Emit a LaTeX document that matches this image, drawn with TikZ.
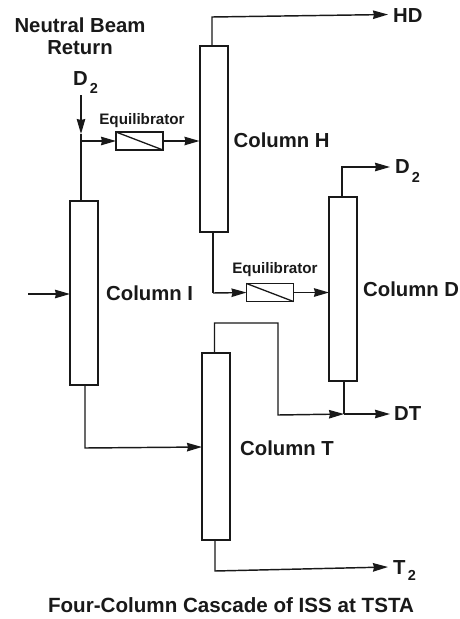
\documentclass[tikz,border=0pt]{standalone}
\usepackage{fontspec}
\setmainfont{Liberation Sans}
\usetikzlibrary{arrows.meta,calc}
\tikzset{
  column/.style={draw=black!90,line width=2pt,fill=white,minimum width=28pt,inner sep=0pt,outer sep=0pt},
  equil/.style={draw=black!90,line width=1.8pt,fill=white,minimum width=47pt,minimum height=18pt,inner sep=0pt,outer sep=0pt},
  flow/.style={draw=black!90,line width=1.45pt,-{Stealth[length=15pt,width=8.5pt,inset=1pt]}},
  pipe/.style={draw=black!90,line width=1.45pt},
  lab/.style={font=\bfseries\fontsize{20.3}{22}\selectfont,inner sep=0pt,text=black!90},
  small/.style={font=\bfseries\fontsize{15.2}{16}\selectfont,inner sep=0pt,text=black!90},
  head/.style={font=\bfseries\fontsize{20.3}{22}\selectfont,inner sep=0pt,align=center,text=black!90},
  strm/.style={font=\bfseries\fontsize{20.3}{22}\selectfont,inner sep=0pt,anchor=west,text=black!90},
  subs/.style={font=\bfseries\fontsize{14.5}{15}\selectfont,inner sep=0pt,text=black!90},
}
\begin{document}
\begin{tikzpicture}[x=1pt,y=-1pt]
\useasboundingbox (0,0) rectangle (460,619);
% columns
\node[column,minimum height=186pt] (H) at (213.5,139) {};
\node[column,minimum height=184pt] (I) at (84,293) {};
\node[column,minimum height=184pt] (D) at (343,289) {};
\node[column,minimum height=187pt] (T) at (216,446.5) {};
% equilibrators
\node[equil] (E1) at (139.5,141) {};
\node[equil] (E2) at (270,292.5) {};
\draw[line width=1.3pt,black!90] (E1.north west) -- (E1.south east);
\draw[line width=1.3pt,black!90] (E2.north west) -- (E2.south east);
% labels
\node[head] (title) at (80,36) {Neutral Beam\\Return};
\node[strm] (d2a) at (73,79) {D};
\node[subs] (d2as) at (94,88) {2};
\node[small] (e1t) at (142,121) {Equilibrator};
\node[small] (e2t) at (275,270) {Equilibrator};
\node[lab,anchor=west] (cH) at (233.5,140.5) {Column H};
\node[lab,anchor=west] (cI) at (106,293) {Column I};
\node[lab,anchor=west] (cD) at (363,289) {Column D};
\node[lab,anchor=west] (cT) at (240,448) {Column T};
\node[strm] (HD) at (393,16) {HD};
\node[strm] (D2b) at (395,167) {D};
\node[subs] (D2bs) at (416,177) {2};
\node[strm] (DT) at (394,414) {DT};
\node[strm] (T2) at (393,568) {T};
\node[subs] (T2s) at (412,575) {2};
\node[font=\bfseries\fontsize{20.6}{22}\selectfont,inner sep=0pt,text=black!90] (cap) at (231,605) {Four-Column Cascade of ISS at TSTA};
% junction and free-end coordinates
\coordinate (d2top) at (81,95);
\coordinate (j1) at (81,141);
\coordinate (j1tip) at (81,134);
\coordinate (inl) at (28,294);
\coordinate (j2) at (344,414);
% connectors
\draw[flow] (d2top) -- (j1tip);
\draw[pipe] (j1tip) -- (j1) -- (j1 |- I.north);
\draw[flow] (j1) -- (E1.west);
\draw[flow] (E1.east) -- (E1.east -| H.west);
\draw[flow] (inl) -- (inl -| I.west);
\draw[flow] (212,46) -- (212,17) -- (388,14.5);
\draw[pipe] (213,232) -- (213,293);
\draw[flow] (213,293) -- (E2.west);
\draw[flow] (E2.east) -- (E2.east -| D.west);
\draw[flow] (342,197) -- (342,167) -- (390,167);
\draw[pipe] (344,381) -- (j2);
\draw[flow] (j2) -- (390,414);
\draw[flow] (214.5,353) -- (214.5,323) -- (278,323) -- (278,415) -- (j2);
\draw[flow] (215,540) -- (215,571) -- (388,567);
\draw[flow] (85,385) -- (85,448) -- (202,447);
\end{tikzpicture}
\end{document}
